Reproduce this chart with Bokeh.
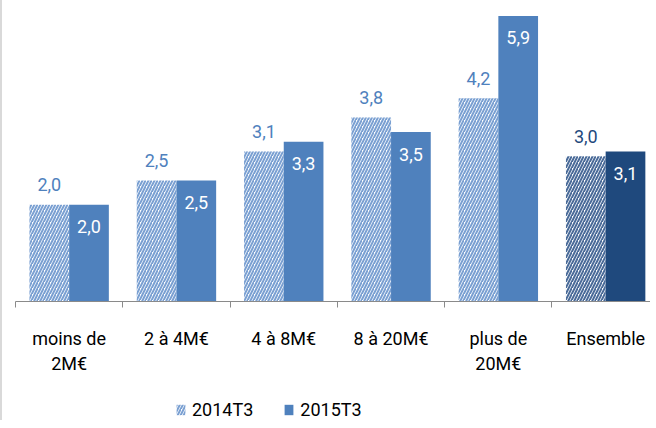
from bokeh.plotting import figure
from bokeh.layouts import column
from bokeh.models import (ColumnDataSource, FixedTicker, Legend, LegendItem,
                          Range1d, LinearAxis)
from bokeh.core.properties import value
from bokeh.embed import file_html
from bokeh.resources import INLINE

# ---- data ----
categories = ["moins de\n2M€", "2 à 4M€", "4 à 8M€", "8 à 20M€", "plus de\n20M€", "Ensemble"]
series_2014 = [2.0, 2.5, 3.1, 3.8, 4.2, 3.0]
series_2015 = [2.0, 2.5, 3.3, 3.5, 5.9, 3.1]
series_names = ["2014T3", "2015T3"]

FONT = "Roboto"
LIGHT = "#4f81bd"
DARK = "#1f497d"
HATCH_LIGHT = "#7aa0d2"
HATCH_DARK = "#4a6b99"

n = len(categories)
idx = list(range(n))
offset = 0.185
bar_w = 0.37

def fmt(v):
    return f"{v:.1f}".replace(".", ",")

is_total = [c == "Ensemble" for c in categories]
src = ColumnDataSource(dict(
    x14=[i - offset for i in idx],
    x15=[i + offset for i in idx],
    v14=series_2014,
    v15=series_2015,
    c15=[DARK if t else LIGHT for t in is_total],
    h14=[HATCH_DARK if t else HATCH_LIGHT for t in is_total],
    l14=[DARK if t else LIGHT for t in is_total],
    t14=[fmt(v) for v in series_2014],
    t15=[fmt(v) for v in series_2015],
))

p = figure(width=648, height=398,
           x_range=Range1d(-0.5, 5.418), y_range=Range1d(0, 6.219),
           output_backend="svg", toolbar_location=None,
           x_axis_type=None, y_axis_type=None,
           min_border_left=13, min_border_right=0, min_border_top=0,
           min_border_bottom=97)
p.outline_line_color = None
p.background_fill_color = "white"
p.border_fill_color = "white"

p.vbar(x="x14", top="v14", width=bar_w, source=src,
       fill_color="white", line_color=None,
       hatch_pattern="/", hatch_color="h14", hatch_scale=6, hatch_weight=2)
p.vbar(x="x15", top="v15", width=bar_w, source=src,
       fill_color="c15", line_color=None)

p.text(x="x14", y="v14", text="t14", source=src, text_color="l14",
       text_font=value(FONT), text_font_size="18px",
       text_align="center", text_baseline="middle", y_offset=-20)
p.text(x="x15", y="v15", text="t15", source=src, text_color="white",
       text_font=value(FONT), text_font_size="18px",
       text_align="center", text_baseline="middle", y_offset=22)

xaxis = LinearAxis(ticker=FixedTicker(ticks=idx, minor_ticks=[i - 0.5 for i in range(n + 1)]),
                   major_label_overrides={i: c for i, c in enumerate(categories)})
xaxis.major_tick_out = 0
xaxis.major_tick_in = 0
xaxis.minor_tick_out = 6
xaxis.minor_tick_in = 0
xaxis.axis_line_color = "#8a8a8a"
xaxis.minor_tick_line_color = "#8a8a8a"
xaxis.major_label_text_font = FONT
xaxis.major_label_text_font_size = "18px"
xaxis.major_label_text_color = "black"
xaxis.major_label_standoff = 20
p.add_layout(xaxis, "below")

# ---- legend strip below the chart (zero-height swatch renderers) ----
lg = figure(width=648, height=22, x_range=Range1d(0, 1), y_range=Range1d(0, 1),
            output_backend="svg", toolbar_location=None,
            x_axis_type=None, y_axis_type=None,
            min_border_left=0, min_border_right=0, min_border_top=0, min_border_bottom=0)
lg.outline_line_color = None
lg.border_fill_color = "white"
swatch = ColumnDataSource(dict(x=[0.5], top=[0]))
k14 = lg.vbar(x="x", top="top", width=0.1, source=swatch, fill_color="white", line_color=None,
              hatch_pattern="/", hatch_color=HATCH_LIGHT, hatch_scale=6, hatch_weight=2)
k15 = lg.vbar(x="x", top="top", width=0.1, source=swatch, fill_color=LIGHT, line_color=None)
legend = Legend(items=[LegendItem(label=series_names[0], renderers=[k14], index=0),
                       LegendItem(label=series_names[1], renderers=[k15], index=0)],
                orientation="horizontal", location=(160, 0),
                padding=0, margin=0, spacing=30, label_standoff=6,
                glyph_width=11, glyph_height=13,
                label_text_font=FONT, label_text_font_size="18px",
                label_text_color="black",
                border_line_color=None, background_fill_alpha=0)
lg.add_layout(legend, "center")

layout = column(p, lg, spacing=0, styles={"border-left": "2px solid #d9d9d9"})
open("out.html", "w").write(file_html(layout, INLINE))
